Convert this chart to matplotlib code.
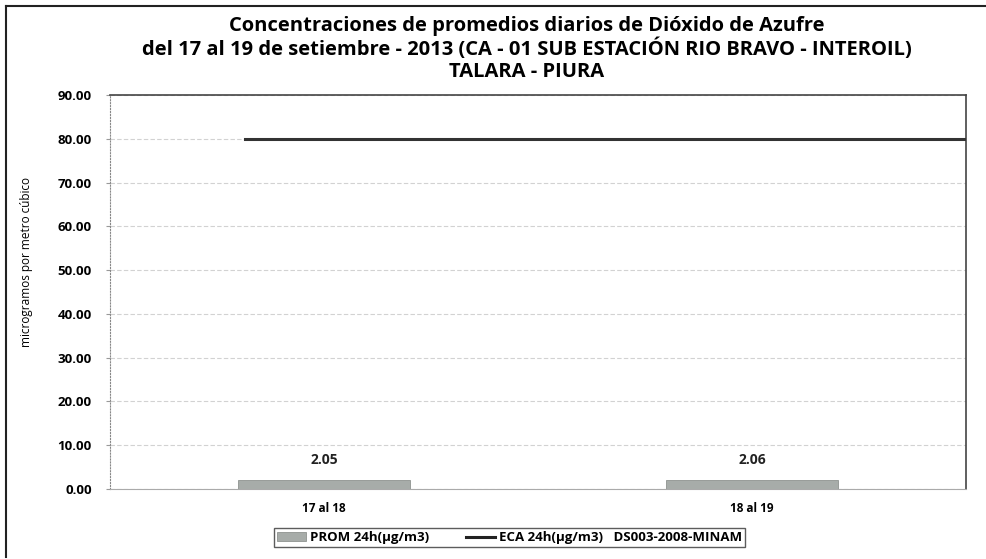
import numpy as np
import matplotlib.pyplot as plt
from matplotlib.lines import Line2D
from matplotlib.patches import Patch

# datos
periodos = ['17 al 18', '18 al 19']
prom_24h = [2.05, 2.06]
eca_24h = 80.0
y_ticks = [0, 10, 20, 30, 40, 50, 60, 70, 80, 90]

plt.rcParams['font.family'] = ['Open Sans', 'DejaVu Sans']

fig = plt.figure(figsize=(9.87, 5.59), dpi=100)
ax = fig.add_axes([0.1114, 0.1252, 0.8673, 0.7048])

x = np.arange(len(periodos))
bars = ax.bar(x, prom_24h, width=0.4, color='#a7aca9', edgecolor='#8e9390', lw=0.6, zorder=3)
for xi, v in zip(x, prom_24h):
    ax.text(xi, v + 3.0, f'{v:.2f}', ha='center', va='bottom', fontsize=10, fontweight='bold', color='#222222')

ax.set_xlim(-0.5, 1.5)
ax.set_ylim(0, 90)
ax.axhline(eca_24h, xmin=0.158, xmax=1.0, color='#333333', lw=2.2, zorder=4)

ax.set_xticks(x)
ax.set_xticklabels(periodos, fontsize=8.5, fontweight='bold')
ax.set_yticks(y_ticks)
ax.set_yticklabels([f'{t:.2f}' for t in y_ticks], fontsize=9.5, fontweight='bold')
ax.tick_params(axis='x', length=0, pad=9)
ax.tick_params(axis='y', length=3, color='#999999', pad=10)
ax.grid(axis='y', color='#d2d2d2', ls=(0, (4, 2)), lw=0.8, zorder=0)

ax.spines['left'].set_color('#888888')
ax.spines['left'].set_linestyle(':')
ax.spines['bottom'].set_color('#aaaaaa')
ax.spines['top'].set_color('#444444')
ax.spines['right'].set_color('#444444')
ax.spines['top'].set_linewidth(1.2)
ax.spines['right'].set_linewidth(1.2)

ax.set_ylabel('microgramos por metro cúbico', fontsize=8.5)
ax.yaxis.set_label_coords(-0.09, 0.576)

fig.text(0.534, 0.954, 'Concentraciones de promedios diarios de Dióxido de Azufre',
         ha='center', va='center', fontsize=14.5, fontweight='bold')
fig.text(0.534, 0.912, 'del 17 al 19 de setiembre - 2013 (CA - 01 SUB ESTACIÓN RIO BRAVO - INTEROIL)',
         ha='center', va='center', fontsize=14.5, fontweight='bold')
fig.text(0.534, 0.871, 'TALARA - PIURA', ha='center', va='center', fontsize=14.5, fontweight='bold')

handles = [Patch(facecolor='#a7aca9', edgecolor='#8e9390', lw=0.6),
           Line2D([0], [0], color='#222222', lw=2.2)]
labels = ['PROM 24h(µg/m3)', 'ECA 24h(µg/m3)   DS003-2008-MINAM']
leg = fig.legend(handles, labels, loc='center', bbox_to_anchor=(0.516, 0.0385), ncol=2,
                 prop={'size': 9.5, 'weight': 'bold'}, frameon=True, fancybox=False,
                 edgecolor='#333333', handlelength=2.2, handleheight=0.6,
                 borderpad=0.2, columnspacing=2.8, handletextpad=0.3)
leg.get_frame().set_linewidth(1.0)

# marco exterior
fig.add_artist(Line2D([0.006, 0.006], [0.003, 0.99], color='#222222', lw=1.5, transform=fig.transFigure))
fig.add_artist(Line2D([0.006, 1.0], [0.99, 0.99], color='#222222', lw=1.5, transform=fig.transFigure))

fig.savefig('out.png', dpi=100)
